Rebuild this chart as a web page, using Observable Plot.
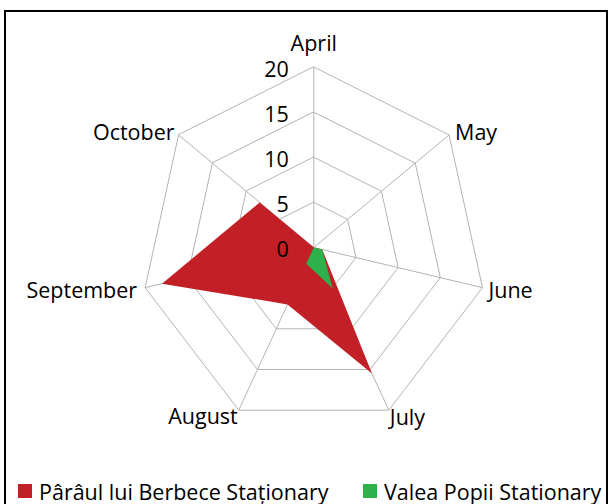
<!DOCTYPE html>
<html><head><meta charset="utf-8">
<script src="https://cdn.jsdelivr.net/npm/d3@7"></script>
<script src="https://cdn.jsdelivr.net/npm/@observablehq/plot@0.6"></script>
<style>
body{margin:0;background:#fff;}
#wrap{position:relative;width:611px;height:504px;overflow:hidden;font-family:"Open Sans",sans-serif;background:#fff;}
#frame{position:absolute;left:4px;top:10px;width:600px;height:520px;border:2px solid #000;}
#chart{position:absolute;left:0;top:0;}
#legend{position:absolute;left:0;top:478px;width:611px;height:26px;font-size:21.5px;color:#000;}
.item{position:absolute;top:0;display:flex;align-items:center;white-space:nowrap;height:26px;}
.sw{width:14px;height:14px;margin-right:7px;}
</style></head>
<body>
<div id="wrap"><div id="frame"></div><div id="chart"></div><div id="legend"></div></div>
<script>
const months = ["April","May","June","July","August","September","October"];
const seriesNames = ["Pârâul lui Berbece Staționary","Valea Popii Stationary"];
const parau = [0, 0, 1, 15.5, 7, 18, 8];
const valea = [0, 0, 1, 5, 2, 0, 0];
const ticks = [0, 5, 10, 15, 20];
const colors = ["#C21F27", "#2DB14B"];

const n = months.length;
const ang = i => i * 2 * Math.PI / n;
const px = (r, i) => r * Math.sin(ang(i));
const py = (r, i) => r * Math.cos(ang(i));
const rMax = ticks[ticks.length - 1];

const rings = ticks.filter(t => t > 0).flatMap(t => months.map((m, i) => ({ring: t, x: px(t, i), y: py(t, i)})));
const spokes = months.map((m, i) => ({x: px(rMax, i), y: py(rMax, i)}));
const series = [parau, valea].flatMap((vals, s) => vals.map((v, i) => ({s: seriesNames[s], x: px(v, i), y: py(v, i)})));

const labelStyle = {
  April: {anchor: "middle", dx: 0, dy: -23},
  May: {anchor: "start", dx: 6, dy: -2},
  June: {anchor: "start", dx: 6, dy: 3},
  July: {anchor: "start", dx: 1, dy: 8},
  August: {anchor: "end", dx: -1, dy: 7},
  September: {anchor: "end", dx: -8, dy: 3},
  October: {anchor: "end", dx: -4, dy: -2}
};
const labels = months.map((m, i) => ({m, x: px(rMax, i), y: py(rMax, i), ...labelStyle[m]}));
const FS = 21.5;

const chart = Plot.plot({
  width: 611, height: 504, margin: 0,
  style: {fontFamily: "Open Sans", background: "transparent"},
  x: {domain: [-20, 20], range: [140.3, 486.3], axis: null},
  y: {domain: [-20, 20], range: [427.5, 66.5], axis: null},
  color: {domain: seriesNames, range: colors},
  marks: [
    Plot.line(rings, {x: "x", y: "y", z: "ring", curve: "linear-closed", stroke: "#b4b4b4", strokeWidth: 1}),
    Plot.link(spokes, {x1: 0, y1: 0, x2: "x", y2: "y", stroke: "#b4b4b4", strokeWidth: 1}),
    Plot.line(series, {x: "x", y: "y", z: "s", curve: "linear-closed", fill: d => d.s, stroke: "none"}),
    Plot.text(ticks, {x: 0, y: d => d, text: d => String(d), textAnchor: "end", dx: -25, dy: 3, fontSize: FS, fill: "#000"}),
    ...labels.map(d => Plot.text([d], {x: "x", y: "y", text: "m", textAnchor: d.anchor, dx: d.dx, dy: d.dy, fontSize: FS, fill: "#000"}))
  ]
});
document.getElementById("chart").appendChild(chart);

const legend = document.getElementById("legend");
const lefts = [18, 363];
seriesNames.forEach((name, i) => {
  const it = document.createElement("div");
  it.className = "item";
  it.style.left = lefts[i] + "px";
  it.innerHTML = `<span class="sw" style="background:${colors[i]}"></span><span>${name}</span>`;
  legend.appendChild(it);
});
</script>
</body></html>
